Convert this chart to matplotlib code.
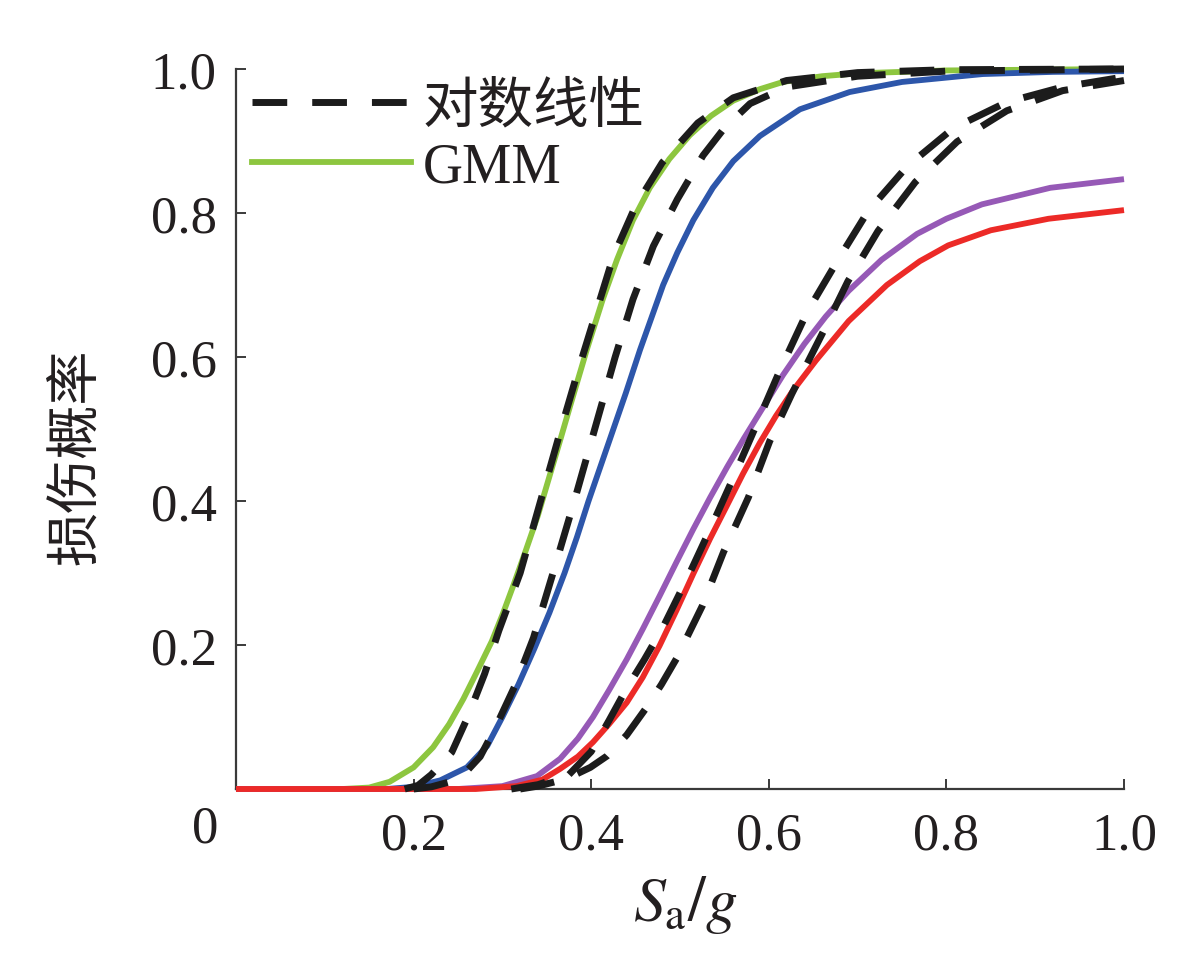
import matplotlib
matplotlib.use("Agg")
import matplotlib.pyplot as plt
from matplotlib.lines import Line2D

# ---------------- data ----------------
# GMM curves (x = Sa/g, p = damage probability)
green_x = [0.0, 0.12, 0.15, 0.173, 0.20, 0.222, 0.240, 0.256, 0.271, 0.288, 0.301, 0.313,
           0.326, 0.340, 0.352, 0.364, 0.377, 0.395, 0.413, 0.429, 0.447, 0.466, 0.488,
           0.511, 0.535, 0.560, 0.59, 0.616, 0.66, 0.70, 0.80, 0.90, 1.0]
green_p = [0.0, 0.0, 0.002, 0.01, 0.03, 0.058, 0.09, 0.125, 0.162, 0.205, 0.245, 0.285,
           0.33, 0.38, 0.43, 0.48, 0.535, 0.61, 0.68, 0.735, 0.79, 0.835, 0.875,
           0.908, 0.935, 0.956, 0.972, 0.982, 0.99, 0.994, 0.998, 0.999, 1.0]

blue_x = [0.0, 0.17, 0.20, 0.23, 0.26, 0.283, 0.300, 0.318, 0.336, 0.353, 0.370, 0.384,
          0.397, 0.411, 0.425, 0.439, 0.455, 0.468, 0.481, 0.497, 0.515, 0.537, 0.560,
          0.59, 0.635, 0.691, 0.75, 0.841, 0.92, 1.0]
blue_p = [0.0, 0.0, 0.003, 0.012, 0.03, 0.06, 0.10, 0.145, 0.195, 0.245, 0.30, 0.35,
          0.40, 0.45, 0.50, 0.55, 0.61, 0.655, 0.70, 0.745, 0.79, 0.835, 0.872,
          0.907, 0.944, 0.968, 0.982, 0.993, 0.996, 0.997]

purple_x = [0.0, 0.25, 0.30, 0.339, 0.365, 0.385, 0.402, 0.420, 0.440, 0.458, 0.477, 0.496,
            0.515, 0.534, 0.553, 0.572, 0.590, 0.616, 0.640, 0.664, 0.69, 0.727, 0.767,
            0.80, 0.840, 0.917, 1.0]
purple_p = [0.0, 0.0, 0.004, 0.018, 0.042, 0.07, 0.10, 0.137, 0.18, 0.222, 0.268, 0.315,
            0.361, 0.405, 0.447, 0.487, 0.523, 0.575, 0.618, 0.656, 0.692, 0.735, 0.771,
            0.792, 0.812, 0.835, 0.847]

red_x = [0.0, 0.27, 0.316, 0.345, 0.365, 0.385, 0.402, 0.420, 0.440, 0.458, 0.477, 0.496,
         0.515, 0.534, 0.553, 0.571, 0.590, 0.608, 0.627, 0.653, 0.690, 0.733, 0.770,
         0.802, 0.85, 0.915, 1.0]
red_p = [0.0, 0.0, 0.004, 0.013, 0.028, 0.045, 0.065, 0.09, 0.12, 0.155, 0.199, 0.248,
         0.299, 0.348, 0.394, 0.438, 0.481, 0.518, 0.553, 0.595, 0.650, 0.70, 0.733,
         0.755, 0.776, 0.792, 0.804]

# lognormal (对数线性) curves
logn1_x = [0.19, 0.205, 0.22, 0.243, 0.261, 0.28, 0.296, 0.320, 0.343, 0.366, 0.385,
           0.405, 0.425, 0.45, 0.48, 0.52, 0.56, 0.62, 0.70, 0.80, 1.0]
logn1_p = [0.0, 0.005, 0.02, 0.051, 0.10, 0.16, 0.22, 0.30, 0.40, 0.50, 0.58,
           0.66, 0.74, 0.81, 0.87, 0.925, 0.96, 0.984, 0.995, 0.999, 1.0]

logn2_x = [0.20, 0.22, 0.241, 0.26, 0.275, 0.292, 0.314, 0.335, 0.357, 0.381, 0.404,
           0.427, 0.447, 0.470, 0.497, 0.526, 0.55, 0.579, 0.62, 0.70, 0.80, 1.0]
logn2_p = [0.0, 0.003, 0.01, 0.025, 0.045, 0.085, 0.143, 0.21, 0.30, 0.40, 0.50,
           0.60, 0.68, 0.754, 0.819, 0.88, 0.918, 0.952, 0.975, 0.99, 0.997, 1.0]

logn3_x = [0.31, 0.34, 0.375, 0.40, 0.42, 0.44, 0.460, 0.481, 0.511, 0.534, 0.560, 0.584,
           0.612, 0.643, 0.677, 0.712, 0.756, 0.808, 0.868, 0.931, 1.0]
logn3_p = [0.0, 0.006, 0.02, 0.052, 0.095, 0.14, 0.18, 0.225, 0.30, 0.361, 0.432, 0.50,
           0.58, 0.662, 0.733, 0.803, 0.865, 0.918, 0.954, 0.975, 0.989]

logn4_x = [0.32, 0.34, 0.372, 0.399, 0.418, 0.440, 0.461, 0.479, 0.496, 0.525, 0.549, 0.577,
           0.601, 0.626, 0.660, 0.689, 0.723, 0.765, 0.812, 0.868, 0.931, 1.0]
logn4_p = [0.0, 0.004, 0.014, 0.03, 0.046, 0.075, 0.111, 0.145, 0.181, 0.254, 0.329, 0.405,
           0.483, 0.549, 0.632, 0.705, 0.775, 0.843, 0.899, 0.942, 0.970, 0.984]

x_ticks = [0.2, 0.4, 0.6, 0.8, 1.0]
x_ticklabels = ["0.2", "0.4", "0.6", "0.8", "1.0"]
y_ticks = [0.2, 0.4, 0.6, 0.8, 1.0]
y_ticklabels = ["0.2", "0.4", "0.6", "0.8", "1.0"]
legend_labels = ["对数线性", "GMM"]

# ---------------- styling ----------------
GREEN = "#8DC63F"
BLUE = "#2D56AA"
PURPLE = "#9659B6"
RED = "#EC2A27"
DASH = "#1C1C1C"
SPINE = "#3A3A3A"
TEXT = "#231F20"

plt.rcParams["font.family"] = ["Liberation Serif", "Noto Sans CJK SC", "DejaVu Sans"]
plt.rcParams["mathtext.fontset"] = "stix"

fig = plt.figure(figsize=(11.94, 9.78), dpi=100)
ax = fig.add_axes([236 / 1194, 188 / 978, 888 / 1194, 720 / 978])

lw_solid = 4.2
lw_dash = 5.0
dash_style = (0, (5.0, 3.6))

for xs, ps, c in [(green_x, green_p, GREEN), (blue_x, blue_p, BLUE),
                  (purple_x, purple_p, PURPLE), (red_x, red_p, RED)]:
    ax.plot(xs, ps, color=c, lw=lw_solid, solid_capstyle="butt", solid_joinstyle="round",
            clip_on=False, zorder=3)

for xs, ps in [(logn1_x, logn1_p), (logn2_x, logn2_p), (logn3_x, logn3_p), (logn4_x, logn4_p)]:
    ax.plot(xs, ps, color=DASH, lw=lw_dash, linestyle=dash_style, dash_capstyle="butt",
            clip_on=False, zorder=4)

ax.set_xlim(0, 1.0)
ax.set_ylim(0, 1.0)

for s in ["top", "right"]:
    ax.spines[s].set_visible(False)
for s in ["left", "bottom"]:
    ax.spines[s].set_color(SPINE)
    ax.spines[s].set_linewidth(1.6)

ax.set_xticks(x_ticks)
ax.set_xticklabels(x_ticklabels)
ax.set_yticks(y_ticks)
ax.set_yticklabels(y_ticklabels)
ax.tick_params(axis="both", direction="in", length=7, width=1.4, color=SPINE,
               labelsize=38, labelcolor=TEXT)
ax.tick_params(axis="x", pad=16)
ax.tick_params(axis="y", pad=14)

# corner "0"
ax.annotate("0", xy=(0, 0), xycoords="axes fraction", xytext=(-31, -40),
            textcoords="offset pixels", ha="center", va="center", fontsize=38, color=TEXT)

ax.set_ylabel("损伤概率", fontsize=39, family=["Noto Sans CJK SC", "DejaVu Sans"],
              color=TEXT, va="center", ha="center")
ax.yaxis.set_label_coords(-0.181, 0.4625)
ax.set_xlabel(r"$S_{\mathrm{a}}/g$", fontsize=46, color=TEXT, va="center", ha="center")
ax.xaxis.set_label_coords(0.506, -0.16)

handles = [Line2D([], [], color=DASH, lw=lw_dash, linestyle=dash_style, dash_capstyle="butt"),
           Line2D([], [], color=GREEN, lw=lw_solid)]
leg = ax.legend(handles, legend_labels, loc="upper left", bbox_to_anchor=(0.006, 0.998),
                frameon=False, handlelength=2.85, handletextpad=0.22, labelspacing=0.15,
                borderaxespad=0.0, borderpad=0.2,
                prop={"family": ["Liberation Serif", "Noto Sans CJK SC"], "size": 40})
for t in leg.get_texts():
    t.set_color(TEXT)

fig.savefig("out.png", dpi=100)
